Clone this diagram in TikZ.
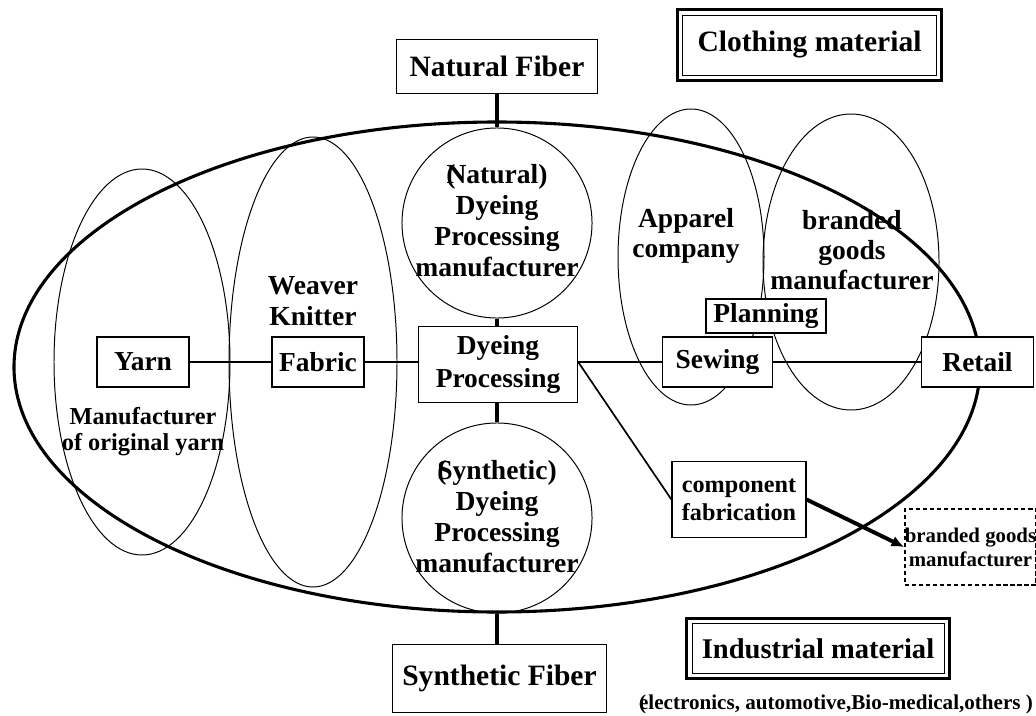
\documentclass[tikz,border=0pt]{standalone}
\usepackage{fontspec}
\setmainfont{Liberation Serif}
\usetikzlibrary{arrows.meta}

\begin{document}
\begin{tikzpicture}[x=0.025cm, y=-0.025cm,
  box/.style={draw, line width=0.8pt, fill=white, inner sep=0pt, align=center,
    font=\fontsize{19.5}{23}\selectfont\bfseries},
  bigbox/.style={box, font=\fontsize{21}{24}\selectfont\bfseries},
  ring/.style={draw, circle, line width=0.7pt, minimum size=4.75cm, inner sep=0pt},
  ringtext/.style={align=center, font=\fontsize{19.6}{22}\selectfont\bfseries},
  grouptext/.style={align=center, font=\fontsize{19.6}{21.5}\selectfont\bfseries},
  group/.style={line width=0.7pt},
  link/.style={line width=1.2pt},
  stem/.style={line width=2.2pt}]
\useasboundingbox (0,0) rectangle (1036,715);
% whole chain
\draw[line width=2.2pt] (497,367) ellipse [x radius=483, y radius=245];
% company groups
\draw[group] (142,362) ellipse [x radius=88, y radius=193];
\draw[group] (313,362) ellipse [x radius=84, y radius=225];
\draw[group] (691,257) ellipse [x radius=73, y radius=148];
\draw[group] (851,262) ellipse [x radius=88, y radius=148];
\node[ring] (natdye) at (497,223) {};
\node[ring] (syndye) at (497,518) {};
% boxes
\node[bigbox, minimum width=5.03cm, minimum height=1.33cm] (natfib) at (497,66.5) {Natural Fiber};
\node[bigbox, minimum width=5.33cm, minimum height=1.68cm] (synfib) at (499.5,678.5) {Synthetic Fiber};
\node[box, minimum width=2.3cm, minimum height=1.25cm] (yarn) at (143,362) {Yarn};
\node[box, minimum width=2.3cm, minimum height=1.25cm] (fabric) at (318,362) {Fabric};
\node[box, minimum width=3.98cm, minimum height=1.88cm] (dyeing) at (498,364.5) {Dyeing\\Processing};
\node[box, minimum width=2.73cm, minimum height=1.25cm] (sewing) at (717.5,362) {Sewing};
\node[box, minimum width=2.78cm, minimum height=1.25cm] (retail) at (977.5,362) {Retail};
\node[box, minimum width=3cm, minimum height=0.85cm] (plan) at (766,316) {Planning};
\node[box, minimum width=3.35cm, minimum height=1.88cm, font=\fontsize{17.2}{20}\selectfont\bfseries] (comp) at (739,499.5) {component\\fabrication};
\node[box, minimum width=3.18cm, minimum height=1.9cm, line width=1pt, dash pattern=on 3pt off 2pt,
  font=\fontsize{14.8}{17}\selectfont\bfseries] (brand) at (970.5,547) {branded goods\\manufacturer};
% double frames
\node[bigbox, minimum width=6.33cm, minimum height=1.5cm, line width=0.6pt] (cloth) at (809.5,45) {Clothing material};
\draw[line width=2pt] ([shift={(-5,-5)}]cloth.north west) rectangle ([shift={(5,5)}]cloth.south east);
\node[box, minimum width=6.3cm, minimum height=1.23cm, line width=0.6pt,
  font=\fontsize{20.3}{23}\selectfont\bfseries] (indus) at (818,648.5) {Industrial material};
\draw[line width=2pt] ([shift={(-5,-5)}]indus.north west) rectangle ([shift={(5,5)}]indus.south east);
% connectors
\draw[stem] (natfib.south) -- (natfib.south |- natdye.north);
\draw[stem] (natdye.south) -- (natdye.south |- dyeing.north);
\draw[stem] (dyeing.south -| syndye.north) -- (syndye.north);
\draw[stem] (syndye.south) -- (syndye.south |- synfib.north);
\draw[link] (yarn) -- (fabric);
\draw[link] (fabric.east) -- (fabric.east -| dyeing.west);
\draw[link] (dyeing.east |- sewing.west) -- (sewing.west);
\draw[link] (sewing) -- (retail);
\draw[link] (dyeing.east |- sewing.west) -- (comp.west);
\draw[line width=2.8pt, -{Latex[length=9pt,width=8pt]}] (comp.east) -- (brand.west);
% labels
\node[ringtext] (natlbl) at (497,221) {\rlap{(}Natural)\\Dyeing\\Processing\\manufacturer};
\node[ringtext] (synlbl) at (497,517) {\rlap{(}Synthetic)\\Dyeing\\Processing\\manufacturer};
\node[grouptext] (weaver) at (313,301) {Weaver\\Knitter};
\node[grouptext, font=\fontsize{17.3}{18.5}\selectfont\bfseries] (spinner) at (143,432) {Manufacturer\\of original yarn};
\node[grouptext] (apparel) at (686,236) {Apparel\\company};
\node[grouptext] (brandco) at (852,250) {branded\\goods\\manufacturer};
\node[font=\fontsize{15}{17}\selectfont\bfseries] (uses) at (836,704) {\rlap{(}electronics, automotive,Bio-medical,others )};
\end{tikzpicture}
\end{document}
